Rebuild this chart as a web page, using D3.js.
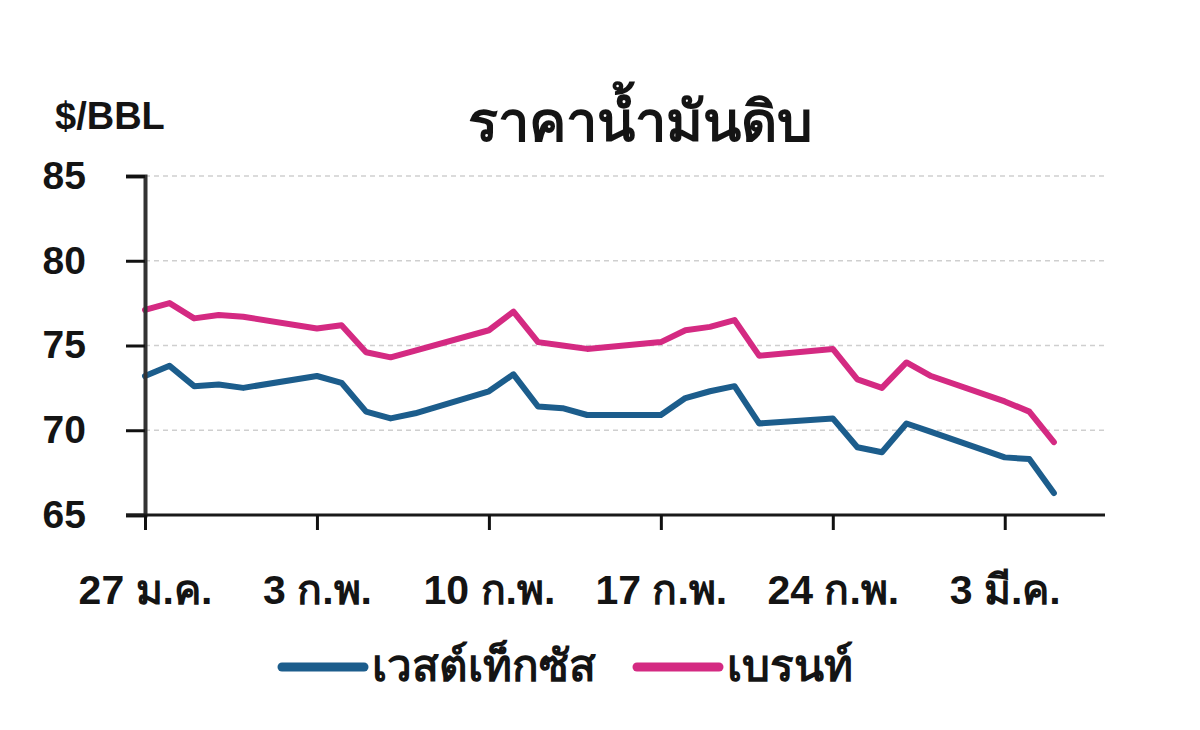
<!DOCTYPE html>
<html>
<head>
<meta charset="utf-8">
<script src="https://cdn.jsdelivr.net/npm/d3@7"></script>
<style>
 body { margin: 0; background: #fff; }
 text { font-family: "Liberation Sans", "Noto Sans", sans-serif; font-weight: bold; fill: #141414; }
</style>
</head>
<body>
<div id="chart"></div>
<script>
// trading days shown in the chart
const dates = ["2025-01-27","2025-01-28","2025-01-29","2025-01-30","2025-01-31",
 "2025-02-03","2025-02-04","2025-02-05","2025-02-06","2025-02-07",
 "2025-02-10","2025-02-11","2025-02-12","2025-02-13","2025-02-14",
 "2025-02-17","2025-02-18","2025-02-19","2025-02-20","2025-02-21",
 "2025-02-24","2025-02-25","2025-02-26","2025-02-27","2025-02-28",
 "2025-03-03","2025-03-04","2025-03-05"];
const wti = [73.2, 73.8, 72.6, 72.7, 72.5, 73.2, 72.8, 71.1, 70.7, 71.0,
 72.3, 73.3, 71.4, 71.3, 70.9, 70.9, 71.9, 72.3, 72.6, 70.4,
 70.7, 69.0, 68.7, 70.4, 69.9, 68.4, 68.3, 66.3];
const brent = [77.1, 77.5, 76.6, 76.8, 76.7, 76.0, 76.2, 74.6, 74.3, 74.7,
 75.9, 77.0, 75.2, 75.0, 74.8, 75.2, 75.9, 76.1, 76.5, 74.4,
 74.8, 73.0, 72.5, 74.0, 73.2, 71.7, 71.1, 69.3];
const seriesNames = ["เวสต์เท็กซัส", "เบรนท์"];
const tickDates = ["2025-01-27","2025-02-03","2025-02-10","2025-02-17","2025-02-24","2025-03-03"];
const tickLabels = ["27 ม.ค.", "3 ก.พ.", "10 ก.พ.", "17 ก.พ.", "24 ก.พ.", "3 มี.ค."];
const yTicks = [65, 70, 75, 80, 85];

const W = 1200, H = 730;
const colors = ["#1c5d8c", "#d42a82"];
const parse = d3.timeParse("%Y-%m-%d");

const svg = d3.select("#chart").append("svg")
 .attr("width", W).attr("height", H);

const x = d3.scaleTime()
 .domain([parse("2025-01-27"), parse("2025-03-07")])
 .range([145, 1103]);
const y = d3.scaleLinear().domain([65, 85]).range([515, 176]);

// dashed grid
svg.append("g")
 .selectAll("line")
 .data(yTicks.slice(1))
 .join("line")
 .attr("x1", 145).attr("x2", 1105)
 .attr("y1", d => y(d)).attr("y2", d => y(d))
 .attr("stroke", "#cfcfcf").attr("stroke-width", 1.5)
 .attr("stroke-dasharray", "5,4");

// lines
const line = d3.line()
 .x((d, i) => x(parse(dates[i])))
 .y(d => y(d));
[wti, brent].forEach((s, k) => {
 svg.append("path")
  .datum(s)
  .attr("d", line)
  .attr("fill", "none")
  .attr("stroke", colors[k])
  .attr("stroke-width", 6)
  .attr("stroke-linejoin", "round")
  .attr("stroke-linecap", "round");
});

// y axis
const yAxis = svg.append("g")
 .attr("transform", "translate(145,0)")
 .call(d3.axisLeft(y).tickValues(yTicks).tickSize(19).tickPadding(40));
yAxis.select(".domain").attr("stroke", "#333").attr("stroke-width", 4);
yAxis.selectAll(".tick line").attr("stroke", "#111").attr("stroke-width", 3);
yAxis.selectAll("text").style("font-size", "39px").attr("fill", "#141414");

// x axis
const xAxis = svg.append("g")
 .attr("transform", "translate(0,515)")
 .call(d3.axisBottom(x)
  .tickValues(tickDates.map(parse))
  .tickFormat((d, i) => tickLabels[i])
  .tickSizeInner(15).tickSizeOuter(0).tickPadding(45));
xAxis.select(".domain").attr("stroke", "#1a1a1a").attr("stroke-width", 3)
 .attr("d", "M126,0H1105");
xAxis.selectAll(".tick line").attr("stroke", "#111").attr("stroke-width", 3);
xAxis.selectAll("text").style("font-size", "41px").attr("fill", "#141414");

// unit & title
svg.append("text").attr("x", 55).attr("y", 129)
 .style("font-size", "38px").text("$/BBL");
svg.append("text").attr("x", 640).attr("y", 141)
 .attr("text-anchor", "middle")
 .style("font-size", "56px").text("ราคาน้ำมันดิบ");

// legend
const legend = svg.append("g").attr("transform", "translate(0,667)");
const legX = [278, 633];
seriesNames.forEach((n, k) => {
 legend.append("line")
  .attr("x1", legX[k] + 4).attr("x2", legX[k] + 86)
  .attr("stroke", colors[k]).attr("stroke-width", 9)
  .attr("stroke-linecap", "round");
 legend.append("text")
  .attr("x", legX[k] + 94).attr("y", 14)
  .style("font-size", "44px").text(n);
});
</script>
</body>
</html>
